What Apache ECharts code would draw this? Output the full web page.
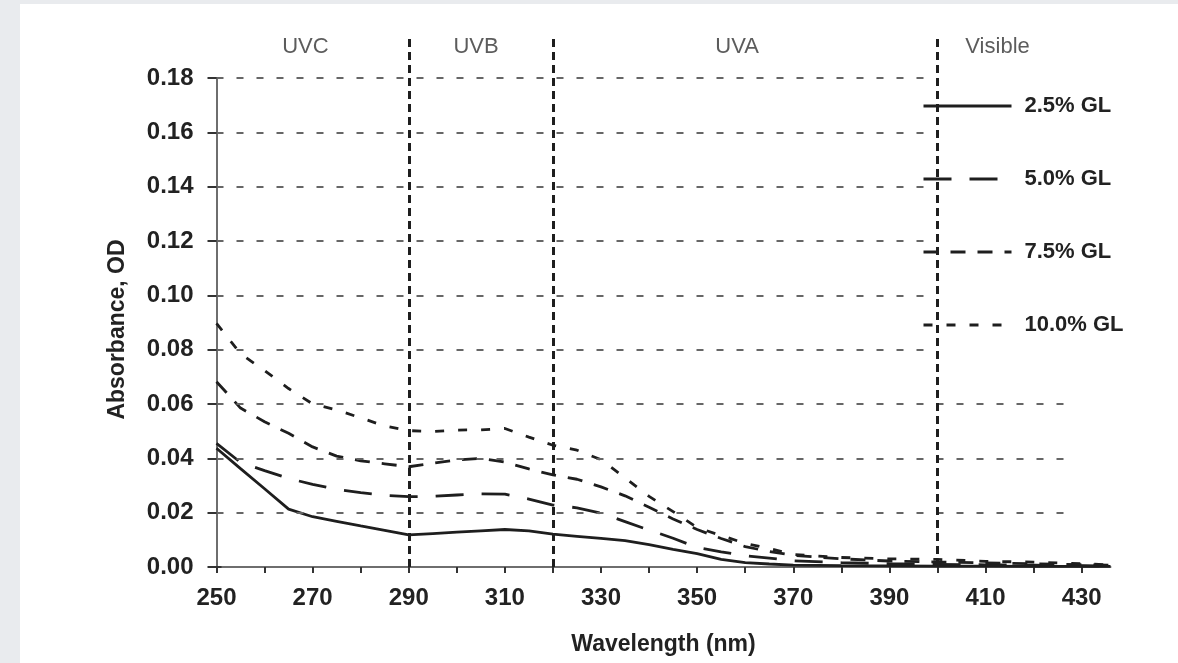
<!DOCTYPE html>
<html>
<head>
    <meta charset="utf-8">
    <title>Absorbance vs wavelength</title>
    <style type="text/css">
        body {
            margin: 0;
            background: #e9ebee;
        }
        #main {
            position: absolute;
            left: 20px;
            top: 4px;
            width: 1158px;
            height: 659px;
            background: #ffffff;
        }
    </style>
</head>
<body>
    <div id="main"></div>
</body>
<script src="https://cdn.jsdelivr.net/npm/echarts@6/dist/echarts.min.js"></script>
<script type="text/javascript">
    // wavelengths (nm) shared by all four curves
    var wavelengths = [250, 255, 260, 265, 270, 275, 280, 285, 290, 295, 300, 305, 310, 315, 320,
        325, 330, 335, 340, 345, 350, 355, 360, 365, 370, 380, 390, 400, 410, 420, 436];

    // absorbance (OD)
    var gl25 = [0.0437, 0.0362, 0.0288, 0.0213, 0.0185, 0.0168, 0.0151, 0.0135, 0.0118, 0.0123, 0.0128, 0.0133, 0.0138, 0.0133, 0.0121,
        0.0113, 0.0105, 0.0097, 0.0082, 0.0065, 0.0049, 0.0028, 0.0016, 0.0011, 0.0007, 0.0005, 0.0004, 0.0003, 0.0003, 0.0002, 0.0002];
    var gl50 = [0.0455, 0.0385, 0.0355, 0.0326, 0.0304, 0.0286, 0.0274, 0.0264, 0.0259, 0.0260, 0.0265, 0.0269, 0.0268, 0.0250, 0.0228,
        0.0218, 0.0198, 0.0167, 0.0136, 0.0106, 0.0072, 0.0056, 0.0041, 0.0033, 0.0023, 0.0016, 0.0012, 0.0010, 0.0008, 0.0007, 0.0004];
    var gl75 = [0.0682, 0.0585, 0.0535, 0.0492, 0.0442, 0.0408, 0.0391, 0.0380, 0.0369, 0.0382, 0.0394, 0.0400, 0.0386, 0.0361, 0.0339,
        0.0323, 0.0295, 0.0262, 0.0220, 0.0177, 0.0138, 0.0105, 0.0075, 0.0057, 0.0043, 0.0030, 0.0022, 0.0018, 0.0015, 0.0012, 0.0007];
    var gl100 = [0.0897, 0.0785, 0.0723, 0.0657, 0.0600, 0.0578, 0.0549, 0.0519, 0.0502, 0.0499, 0.0504, 0.0505, 0.0510, 0.0478, 0.0448,
        0.0430, 0.0395, 0.0328, 0.0260, 0.0204, 0.0145, 0.0116, 0.0087, 0.0068, 0.0046, 0.0035, 0.0030, 0.0028, 0.0021, 0.0018, 0.0008];

    var seriesNames = ['2.5% GL', '5.0% GL', '7.5% GL', '10.0% GL'];
    var seriesValues = [gl25, gl50, gl75, gl100];
    var dashTypes = ['solid', [28, 18], [15, 12], [9, 14]];

    // spectral regions
    var regionNames = ['UVC', 'UVB', 'UVA', 'Visible'];
    var regionLabelAt = [268.5, 304, 358.3, 412.5];
    var regionBorders = [290, 320, 400];

    // horizontal dashed reference lines
    var gridLevels = [0.02, 0.04, 0.06, 0.08, 0.10, 0.12, 0.14, 0.16, 0.18];

    var FONT = 'Liberation Sans, Arial, Helvetica, sans-serif';
    var INK = '#1e1e1e';

    function pairs(values) {
        var out = [];
        for (var i = 0; i < wavelengths.length; i++) {
            out.push([wavelengths[i], values[i]]);
        }
        return out;
    }

    var gridLineData = [];
    for (var i = 0; i < gridLevels.length; i++) {
        // the upper ones stop at the legend, the lower ones run further right
        var end = gridLevels[i] >= 0.08 ? 398.6 : 427;
        gridLineData.push([{ coord: [250, gridLevels[i]] }, { coord: [end, gridLevels[i]] }]);
    }

    var series = [{
        type: 'line',
        xAxisIndex: 0,
        yAxisIndex: 0,
        data: [],
        z: 1,
        silent: true,
        markLine: {
            silent: true,
            symbol: 'none',
            label: { show: false },
            lineStyle: { color: '#666666', width: 2, type: [7, 13] },
            emphasis: { disabled: true },
            data: gridLineData
        }
    }, {
        type: 'scatter',
        xAxisIndex: 1,
        yAxisIndex: 2,
        symbolSize: 0,
        silent: true,
        z: 2,
        data: regionNames.map(function (n, k) {
            return { name: n, value: [regionLabelAt[k], 0.1914] };
        }),
        label: {
            show: true,
            position: 'inside',
            formatter: '{b}',
            color: '#333333',
            fontFamily: FONT,
            fontSize: 22
        },
        markLine: {
            silent: true,
            symbol: 'none',
            label: { show: false },
            lineStyle: { color: INK, width: 3, type: [8, 5] },
            emphasis: { disabled: true },
            data: regionBorders.map(function (b) { return { xAxis: b }; })
        }
    }];

    for (var s = 0; s < seriesNames.length; s++) {
        series.push({
            name: seriesNames[s],
            type: 'line',
            xAxisIndex: 0,
            yAxisIndex: 0,
            symbol: 'none',
            showSymbol: false,
            z: 3,
            lineStyle: { color: INK, width: 2.8, type: dashTypes[s] },
            itemStyle: { color: INK },
            data: pairs(seriesValues[s])
        });
    }

    var option = {
        animation: false,
        backgroundColor: '#ffffff',
        textStyle: { fontFamily: FONT },
        grid: [
            { left: 196.5, right: 67.5, top: 74, bottom: 96 },
            { left: 196.5, right: 67.5, top: 30.5, bottom: 96 }
        ],
        legend: {
            data: seriesNames,
            orient: 'vertical',
            left: 902,
            top: 91,
            padding: 0,
            itemWidth: 88,
            itemHeight: 14,
            itemGap: 51,
            selectedMode: false,
            itemStyle: { opacity: 0 },
            lineStyle: { width: 3 },
            textStyle: {
                color: '#222',
                fontFamily: FONT,
                fontSize: 22,
                fontWeight: 'bold',
                padding: [0, 0, 0, 8]
            }
        },
        xAxis: [{
            gridIndex: 0,
            type: 'value',
            min: 250,
            max: 436,
            interval: 10,
            name: 'Wavelength (nm)',
            nameLocation: 'middle',
            nameGap: 66,
            nameTextStyle: { color: '#222', fontSize: 23, fontWeight: 'bold', fontFamily: FONT },
            axisLine: { onZero: false, lineStyle: { color: '#6e6e6e', width: 2 } },
            axisTick: { show: true, length: 6, lineStyle: { color: '#333', width: 2 } },
            splitLine: { show: false },
            axisLabel: {
                margin: 19,
                color: '#222',
                fontSize: 24,
                fontWeight: 'bold',
                fontFamily: FONT,
                showMaxLabel: false,
                formatter: function (v) {
                    return (v - 250) % 20 === 0 ? String(v) : '';
                }
            }
        }, {
            gridIndex: 1,
            type: 'value',
            min: 250,
            max: 436,
            show: false
        }],
        yAxis: [{
            gridIndex: 0,
            type: 'value',
            min: 0,
            max: 0.18,
            interval: 0.02,
            name: 'Absorbance, OD',
            nameLocation: 'middle',
            nameGap: 87,
            nameTextStyle: {
                color: '#222', fontSize: 23, fontWeight: 'bold', fontFamily: FONT,
                padding: [0, 14, 0, 0]
            },
            axisLine: { show: true, lineStyle: { color: '#6e6e6e', width: 2 } },
            axisTick: { show: true, length: 9, lineStyle: { color: '#333', width: 2 } },
            splitLine: { show: false },
            axisLabel: {
                margin: 23,
                color: '#222',
                fontSize: 24,
                fontWeight: 'bold',
                fontFamily: FONT,
                formatter: function (v) { return v.toFixed(2); }
            }
        }, {
            // short inner half of the cross ticks
            gridIndex: 0,
            type: 'value',
            position: 'left',
            min: 0,
            max: 0.18,
            interval: 0.02,
            axisLine: { show: false },
            axisTick: { show: true, inside: true, length: 5, lineStyle: { color: '#333', width: 2 } },
            axisLabel: { show: false },
            splitLine: { show: false }
        }, {
            gridIndex: 1,
            type: 'value',
            min: 0,
            max: 0.196,
            show: false
        }],
        series: series
    };

    var myChart = echarts.init(document.getElementById('main'));
    myChart.setOption(option);
</script>
</html>
